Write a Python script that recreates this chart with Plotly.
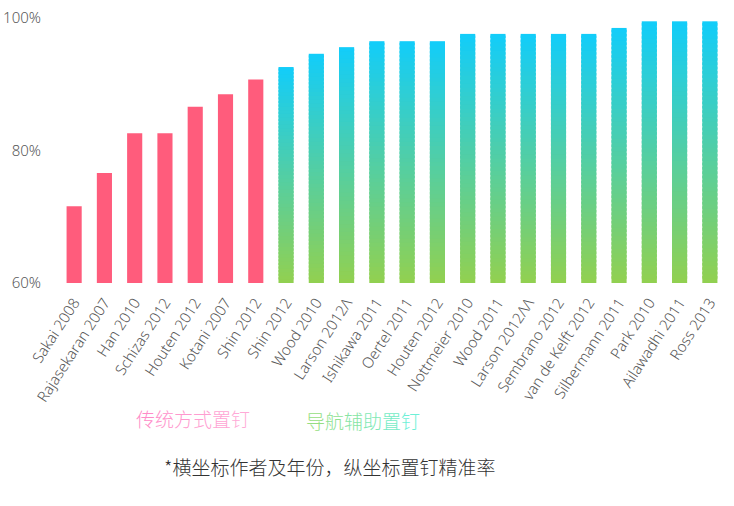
import plotly.graph_objects as go

labels = ["Sakai 2008", "Rajasekaran 2007", "Han 2010", "Schizas 2012", "Houten 2012",
          "Kotani 2007", "Shin 2012", "Shin 2012", "Wood 2010", "Larson 2012Λ",
          "Ishikawa 2011", "Oertel 2011", "Houten 2012", "Nottmeier 2010", "Wood 2011",
          "Larson 2012ΛΛ", "Sembrano 2012", "van de Kelft 2012", "Silbermann 2011",
          "Park 2010", "Ailawadhi 2011", "Ross 2013"]
traditional = [71.6, 76.6, 82.6, 82.6, 86.6, 88.5, 90.7]
navigation = [92.6, 94.6, 95.6, 96.5, 96.5, 96.5, 97.6, 97.6, 97.6, 97.6, 97.6,
              98.5, 99.5, 99.5, 99.5]
y_ticks = [60, 80, 100]
y_tick_text = ["60%", "80%", "100%"]
base_value = 60

n_trad = len(traditional)
x_trad = list(range(n_trad))
x_nav = list(range(n_trad, n_trad + len(navigation)))

fig = go.Figure()
fig.add_trace(go.Bar(x=x_trad, y=[v - base_value for v in traditional], base=base_value,
                     marker=dict(color="#FF5C7C", line=dict(width=0)), width=0.5,
                     hoverinfo="skip", showlegend=False))

# gradient bars built from stacked slices
K = 60
bottom = (146, 208, 80)
top = (18, 205, 250)
for k in range(K):
    t = (k + 0.5) / K
    c = tuple(round(bottom[i] + (top[i] - bottom[i]) * t) for i in range(3))
    color = "rgb(%d,%d,%d)" % c
    step = [(v - base_value) / K for v in navigation]
    h = [s * (1.0 if k == K - 1 else 1.6) for s in step]
    fig.add_trace(go.Bar(x=x_nav, y=h,
                         base=[base_value + s * k for s in step],
                         marker=dict(color=color, line=dict(width=0)), width=0.5,
                         hoverinfo="skip", showlegend=False))

fig.update_layout(
    width=734, height=506,
    margin=dict(l=59, r=9, t=18, b=223),
    paper_bgcolor="white", plot_bgcolor="white",
    barmode="overlay",
    font=dict(family="Noto Sans, Noto Sans CJK SC, sans-serif", color="#555555"),
    xaxis=dict(tickmode="array", tickvals=list(range(len(labels))), ticktext=labels,
               tickangle=-57, range=[-0.5, len(labels) - 0.5], showgrid=False,
               zeroline=False, showline=False, ticks="", ticklabelstandoff=7,
               automargin=False,
               tickfont=dict(size=15, color="#585858", weight=300)),
    yaxis=dict(range=[60, 100], tickvals=y_ticks, ticktext=y_tick_text, showgrid=False,
               zeroline=False, showline=False, ticks="", ticklabelstandoff=17,
               automargin=False,
               tickfont=dict(size=15, color="#585858", weight=300)),
)

def grad_text(text, c0, c1):
    n = len(text)
    parts = []
    for i, ch in enumerate(text):
        t = i / max(n - 1, 1)
        c = tuple(round(c0[j] + (c1[j] - c0[j]) * t) for j in range(3))
        parts.append('<span style="color:rgb(%d,%d,%d)">%s</span>' % (c + (ch,)))
    return "".join(parts)

fig.add_annotation(text=grad_text("传统方式置钉", (255, 140, 200), (255, 170, 215)),
                   xref="paper", yref="paper", x=(193 - 59) / 666, y=(283 - 418) / 265,
                   showarrow=False, xanchor="center", yanchor="middle",
                   font=dict(size=19, family="Noto Sans CJK SC", weight=300))
fig.add_annotation(text=grad_text("导航辅助置钉", (150, 222, 130), (110, 240, 215)),
                   xref="paper", yref="paper", x=(363 - 59) / 666, y=(283 - 421) / 265,
                   showarrow=False, xanchor="center", yanchor="middle",
                   font=dict(size=19, family="Noto Sans CJK SC", weight=300))
fig.add_annotation(text="*横坐标作者及年份，纵坐标置钉精准率",
                   xref="paper", yref="paper", x=(329 - 59) / 666, y=(283 - 466) / 265,
                   showarrow=False, xanchor="center", yanchor="middle",
                   font=dict(size=19, family="Noto Sans CJK SC", color="#333333", weight=300))

fig.write_html("out.html")
